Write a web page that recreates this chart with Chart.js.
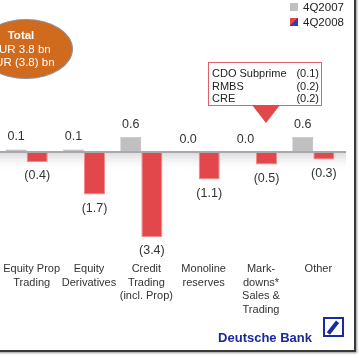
<!DOCTYPE html>
<html><head><meta charset="utf-8">
<script src="https://cdn.jsdelivr.net/npm/chart.js@4.4.0/dist/chart.umd.min.js"></script>
<style>
html,body{margin:0;padding:0;background:#fff;overflow:hidden;width:359px;height:358px;font-family:"Liberation Sans",Arial,sans-serif;}
#wrap{position:absolute;left:-2px;top:0;width:359px;height:358px;}
#ellipse{position:absolute;left:-21px;top:19px;width:94px;height:60px;border-radius:50%;background:#d06a1c;border:1.5px solid #8a93a8;box-sizing:border-box;}
#etext{position:absolute;left:-19px;top:29px;width:80px;text-align:center;color:#fff;font-size:11.5px;line-height:13.5px;}
#etext b{font-weight:bold;}
.leg{position:absolute;font-size:11.5px;color:#222;line-height:12px;}
.sw{position:absolute;width:8px;height:8px;}
#box{position:absolute;left:208px;top:62px;width:114px;height:44px;border:1.5px solid #e06266;box-sizing:border-box;background:#fff;font-size:11px;color:#222;}
.row{position:absolute;left:3px;right:2px;height:12px;line-height:12px;}
.row span{position:absolute;right:0;top:0;}
#tri{position:absolute;left:252px;top:105px;width:0;height:0;border-left:14px solid transparent;border-right:14px solid transparent;border-top:18px solid #e2474c;}
#db{position:absolute;left:190px;top:330px;width:122px;text-align:right;font-size:13px;font-weight:bold;color:#1a2a9e;line-height:15px;}
#logo{position:absolute;left:323px;top:317px;width:21px;height:20px;border:2.5px solid #1a2aa0;box-sizing:border-box;overflow:hidden;}
#slash{position:absolute;left:6px;top:1px;width:3.5px;height:15px;background:#1a2aa0;transform:rotate(38deg);transform-origin:center;}
#frame{position:absolute;left:-10px;top:-10px;width:366px;height:362px;border-right:2px solid #3a3a3a;border-bottom:2px solid #3a3a3a;box-sizing:border-box;box-shadow:1px 1px 2px #999;}
</style></head><body>
<div id="wrap"><canvas id="c"></canvas></div>
<div id="ellipse"></div>
<div id="etext"></div>
<div class="sw" style="left:290px;top:3px;background:#c0c0c0"></div>
<div class="leg" id="l1" style="left:303px;top:1px"></div>
<div class="sw" style="left:290px;top:18px;background:linear-gradient(to top left,#2b3fbf 50%,#e2474c 50%)"></div>
<div class="leg" id="l2" style="left:303px;top:16px"></div>
<div id="box"></div>
<div id="tri"></div>
<div id="db">Deutsche Bank</div>
<div id="logo"><div id="slash"></div></div>
<div id="frame"></div>
<script>
const categories = [["Equity Prop","Trading"],["Equity","Derivatives"],["Credit","Trading","(incl. Prop)"],["Monoline","reserves"],["Mark-","downs*","Sales &","Trading"],["Other"]];
const seriesNames = ["4Q2007","4Q2008"];
const values2007 = [0.1, 0.1, 0.6, 0.0, 0.0, 0.6];
const values2008 = [-0.4, -1.7, -3.4, -1.1, -0.5, -0.3];
const breakdownLabels = ["CDO Subprime","RMBS","CRE"];
const breakdownValues = [-0.1, -0.2, -0.2];
const totalTitle = "Total";
const totalLines = ["EUR 3.8 bn","EUR (3.8) bn"];

function fmt(v){ return v < 0 ? "(" + Math.abs(v).toFixed(1) + ")" : v.toFixed(1); }

document.getElementById('etext').innerHTML = '<b>'+totalTitle+'</b><br>'+totalLines.join('<br>');
document.getElementById('l1').textContent = seriesNames[0];
document.getElementById('l2').textContent = seriesNames[1];
const box = document.getElementById('box');
breakdownLabels.forEach((l,i)=>{
  const d=document.createElement('div'); d.className='row'; d.style.top=(4+i*12.5)+'px';
  d.textContent=l; const s=document.createElement('span'); s.textContent=fmt(breakdownValues[i]); d.appendChild(s); box.appendChild(d);
});

const bgPlugin = {
  id:'bg',
  beforeDatasetsDraw(chart){
    const ctx=chart.ctx, y0=chart.scales.y.getPixelForValue(0);
    const g=ctx.createLinearGradient(0,y0,0,y0+20);
    g.addColorStop(0,'#d9d9d9'); g.addColorStop(1,'rgba(255,255,255,0)');
    ctx.save(); ctx.fillStyle=g; ctx.fillRect(0,y0,348,20); ctx.restore();
  },
  afterDatasetsDraw(chart){
    const ctx=chart.ctx, y0=chart.scales.y.getPixelForValue(0);
    ctx.save();
    ctx.strokeStyle='#a8a8b0'; ctx.lineWidth=2;
    ctx.beginPath(); ctx.moveTo(0,y0); ctx.lineTo(348,y0); ctx.stroke();
    ctx.font='12.5px "Liberation Sans", Arial, sans-serif';
    ctx.fillStyle='#333'; ctx.textAlign='center'; ctx.textBaseline='middle';
    chart.data.datasets.forEach((ds,di)=>{
      chart.getDatasetMeta(di).data.forEach((bar,i)=>{
        const v=ds.data[i];
        const y = v < 0 ? bar.y + 14 : bar.y - 12.5;
        ctx.fillText(fmt(v), bar.x, y);
      });
    });
    ctx.restore();
  }
};

new Chart(document.getElementById('c'), {
  type:'bar',
  data:{
    labels:categories,
    datasets:[
      {label:seriesNames[0], data:values2007, backgroundColor:'#c0c0c0', borderColor:'#b4b4b4', borderWidth:0.5},
      {label:seriesNames[1], data:values2008, backgroundColor:'#e2474c', borderColor:'#f08a8c', borderWidth:1}
    ]
  },
  options:{
    responsive:true, maintainAspectRatio:false, animation:false, devicePixelRatio:1,
    layout:{padding:{top:2,left:0,right:15,bottom:0}},
    categoryPercentage:0.735, barPercentage:1.0,
    plugins:{legend:{display:false}, tooltip:{enabled:false}},
    scales:{
      x:{
        grid:{display:false, drawTicks:false}, border:{display:false},
        ticks:{color:'#333', font:{family:'"Liberation Sans", Arial, sans-serif', size:11, lineHeight:1.25}, padding:0, labelOffset:5, maxRotation:0, autoSkip:false},
        afterFit(s){ s.height=96; }
      },
      y:{display:false, min:-4.4, max:6}
    }
  },
  plugins:[bgPlugin]
});
</script>
</body></html>
